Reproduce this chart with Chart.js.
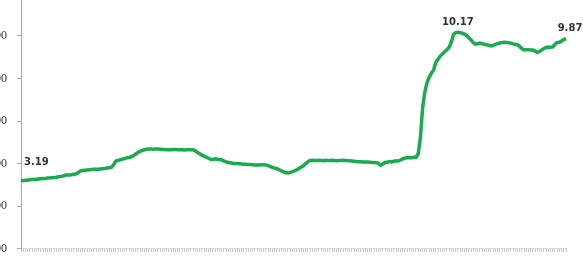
<!DOCTYPE html>
<html>
<head>
<meta charset="utf-8">
<script src="https://cdn.jsdelivr.net/npm/chart.js@4.4.1/dist/chart.umd.min.js"></script>
<style>
  html, body { margin: 0; padding: 0; background: #fff; overflow: hidden; }
  body { width: 583px; height: 263px; position: relative; }
  #wrap { position: absolute; left: -40px; top: -24px; width: 623px; height: 290px; }
</style>
</head>
<body>
<div id="wrap"><canvas id="rateChart" width="623" height="290"></canvas></div>
<script>
// series values, one per period
const rateValues = [
  3.19, 3.20, 3.22, 3.22, 3.24, 3.25, 3.25, 3.27, 3.28, 3.29,
  3.30, 3.30, 3.32, 3.33, 3.34, 3.35, 3.36, 3.38, 3.40, 3.42,
  3.45, 3.46, 3.47, 3.48, 3.50, 3.52, 3.58, 3.66, 3.68, 3.69,
  3.70, 3.71, 3.72, 3.73, 3.73, 3.74, 3.75, 3.76, 3.77, 3.79,
  3.80, 3.83, 3.95, 4.12, 4.15, 4.18, 4.21, 4.24, 4.27, 4.29,
  4.32, 4.38, 4.45, 4.52, 4.58, 4.62, 4.65, 4.67, 4.68, 4.68,
  4.67, 4.68, 4.68, 4.67, 4.66, 4.66, 4.65, 4.65, 4.65, 4.66,
  4.66, 4.65, 4.65, 4.65, 4.64, 4.65, 4.65, 4.65, 4.65, 4.60,
  4.52, 4.46, 4.40, 4.35, 4.30, 4.25, 4.20, 4.19, 4.22, 4.20,
  4.18, 4.18, 4.12, 4.08, 4.05, 4.04, 4.02, 4.01, 4.00, 3.99,
  3.98, 3.97, 3.97, 3.96, 3.96, 3.95, 3.94, 3.94, 3.93, 3.94,
  3.95, 3.94, 3.90, 3.86, 3.82, 3.79, 3.76, 3.71, 3.66, 3.61,
  3.57, 3.56, 3.58, 3.62, 3.66, 3.71, 3.77, 3.84, 3.90, 4.00,
  4.08, 4.15, 4.16, 4.15, 4.15, 4.16, 4.15, 4.14, 4.16, 4.15,
  4.15, 4.16, 4.15, 4.14, 4.15, 4.15, 4.16, 4.15, 4.14, 4.13,
  4.12, 4.11, 4.10, 4.09, 4.09, 4.08, 4.07, 4.07, 4.06, 4.05,
  4.05, 4.04, 4.02, 3.92, 3.98, 4.05, 4.06, 4.10, 4.08, 4.11,
  4.13, 4.12, 4.17, 4.22, 4.26, 4.28, 4.29, 4.28, 4.30, 4.30,
  4.45, 5.20, 6.60, 7.35, 7.80, 8.05, 8.25, 8.40, 8.75, 8.90,
  9.05, 9.15, 9.25, 9.35, 9.45, 9.70, 10.05, 10.15, 10.17, 10.15,
  10.12, 10.08, 10.02, 9.90, 9.80, 9.68, 9.61, 9.63, 9.66, 9.63,
  9.60, 9.58, 9.55, 9.52, 9.55, 9.60, 9.63, 9.66, 9.68, 9.70,
  9.69, 9.68, 9.65, 9.62, 9.60, 9.58, 9.50, 9.40, 9.33, 9.34,
  9.35, 9.33, 9.33, 9.28, 9.22, 9.27, 9.33, 9.40, 9.45, 9.47,
  9.46, 9.48, 9.60, 9.69, 9.70, 9.75, 9.82, 9.87
];

// categories: one per period, their text is not shown on the chart
const periods = rateValues.map((_, i) => 'P' + (i + 1));

// y tick values
const yTicks = [0, 2, 4, 6, 8, 10, 12];

// points that carry a value label: first, peak, last
const labelledPoints = [0, 198, rateValues.length - 1];

const valueLabels = {
  id: 'valueLabels',
  afterDatasetsDraw(chart) {
    const ctx = chart.ctx;
    const meta = chart.getDatasetMeta(0);
    ctx.save();
    ctx.font = 'bold 10px "DejaVu Sans", Verdana, sans-serif';
    ctx.fillStyle = '#333';
    ctx.textBaseline = 'middle';
    labelledPoints.forEach((idx, n) => {
      const pt = meta.data[idx];
      const txt = rateValues[idx].toFixed(2);
      if (n === 0) {
        ctx.textAlign = 'left';
        ctx.fillText(txt, pt.x + 3, pt.y - 18);
      } else if (n === labelledPoints.length - 1) {
        ctx.textAlign = 'center';
        ctx.fillText(txt, pt.x + 4, pt.y - 10);
      } else {
        ctx.textAlign = 'center';
        ctx.fillText(txt, pt.x, pt.y - 10);
      }
    });
    ctx.restore();
  }
};

new Chart(document.getElementById('rateChart'), {
  type: 'line',
  data: {
    labels: periods,
    datasets: [{
      data: rateValues,
      borderColor: '#19ab50',
      borderWidth: 3.5,
      pointRadius: 0,
      tension: 0,
      fill: false
    }]
  },
  options: {
    responsive: false,
    animation: false,
    layout: { padding: { top: 12, right: 17, left: 0, bottom: 0 } },
    plugins: {
      legend: { display: false },
      tooltip: { enabled: false }
    },
    scales: {
      x: {
        offset: false,
        grid: { display: true, drawOnChartArea: false, drawTicks: true, tickLength: 3, color: '#c4c4c4' },
        border: { display: true, color: '#d8d8d8' },
        ticks: { autoSkip: false, maxRotation: 0, callback: () => '' },
        afterFit: scale => { scale.height = 15; }
      },
      y: {
        min: 0,
        max: 12,
        afterBuildTicks: scale => { scale.ticks = yTicks.map(v => ({ value: v })); },
        grid: { display: true, drawOnChartArea: false, drawTicks: true, tickLength: 4, color: '#b0b0b0' },
        border: { display: true, color: '#a8a8a8' },
        ticks: {
          padding: 10,
          color: '#333',
          font: { family: '"Liberation Serif", serif', size: 12 },
          callback: v => v.toFixed(2)
        },
        afterFit: scale => { scale.width = 61; }
      }
    }
  },
  plugins: [valueLabels]
});
</script>
</body>
</html>
